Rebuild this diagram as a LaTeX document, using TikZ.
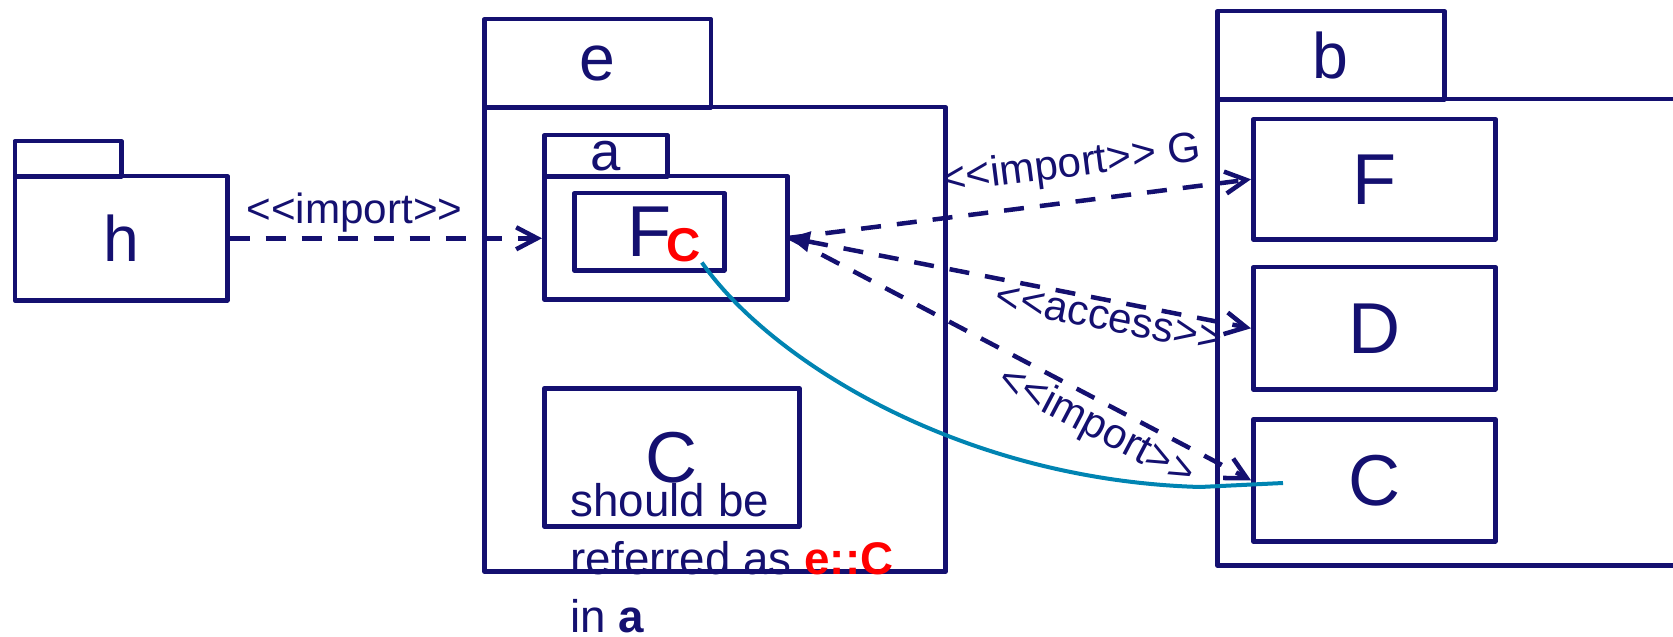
\documentclass[tikz,border=0pt]{standalone}
\usepackage{fontspec}
\setmainfont{Liberation Sans}
\usetikzlibrary{arrows.meta}

\definecolor{umlnavy}{RGB}{20,16,112}
\definecolor{umlteal}{RGB}{0,132,178}

\newcommand{\ltlt}{<\kern0pt<}
\newcommand{\gtgt}{>\kern0pt>}
\newcommand{\pkgfont}{\fontsize{18.3}{22}\selectfont}
\newcommand{\clsfont}{\fontsize{20.5}{24}\selectfont}

\tikzset{
  pkg/.style={draw=umlnavy, line width=0.045cm, line join=round, anchor=north west,
    inner sep=0pt, text=umlnavy},
  dep/.style={draw=umlnavy, line width=0.045cm, dash pattern=on 0.2cm off 0.16cm,
    -{Straight Barb[length=0.21cm,width=0.22cm]}},
  deplabel/.style={text=umlnavy, font=\fontsize{12}{14}\selectfont, inner sep=1pt},
}

\begin{document}
\begin{tikzpicture}[x=0.01cm, y=-0.01cm]
   \useasboundingbox (0,0) rectangle (1673,637);

   \node[pkg, minimum width=1.065cm, minimum height=0.35cm] (htab) at (12.5,139) {};
   \node[pkg, minimum width=2.125cm, minimum height=1.24cm, font=\pkgfont] (h) at (12.5,174) {h};

   \node[pkg, minimum width=2.265cm, minimum height=0.88cm, font=\pkgfont] (etab) at (482,17) {e};
   \node[pkg, minimum width=4.61cm, minimum height=4.64cm] (e) at (482,105) {};
   \node[pkg, minimum width=1.23cm, minimum height=0.41cm, font=\fontsize{15.5}{18}\selectfont] (atab) at (542,133) {a};
   \node[pkg, minimum width=2.43cm, minimum height=1.23cm] (a) at (542,174) {};
   \node[pkg, minimum width=1.5cm, minimum height=0.77cm, font=\clsfont] (aF) at (572,191) {F};
   \node[font=\bfseries\fontsize{13.5}{16}\selectfont, text=red, inner sep=0pt] (mark) at (684,245) {C};
   \node[pkg, minimum width=2.55cm, minimum height=1.38cm, font=\clsfont] (eC) at (542,386) {C};

   \node[pkg, minimum width=2.27cm, minimum height=0.88cm, font=\pkgfont] (btab) at (1215,9) {b};
   \node[pkg, minimum width=5cm, minimum height=4.66cm] (b) at (1215,97) {};
   \node[pkg, minimum width=2.42cm, minimum height=1.2cm, font=\clsfont] (bF) at (1251,117) {F};
   \node[pkg, minimum width=2.42cm, minimum height=1.22cm, font=\clsfont] (bD) at (1251,265) {D};
   \node[pkg, minimum width=2.42cm, minimum height=1.22cm, font=\clsfont] (bC) at (1251,417) {C};

   \draw[dep] (h.east) -- (h.east -| a.west)
      node[deplabel, pos=.4, above] {\ltlt import\gtgt};
   \draw[dep] (a.east) -- (bF.west)
      node[deplabel, pos=.62, sloped, above=3pt] {\ltlt import\gtgt{} G};
   \draw[dep, {Triangle[length=0.2cm,width=0.2cm]}-{Straight Barb[length=0.21cm,width=0.22cm]}] (a.east) -- (bD.west)
      node[deplabel, pos=.7, sloped, below] {\ltlt access\gtgt};
   \draw[dep] (a.east) -- (bC.west)
      node[deplabel, pos=.69, sloped, below] {\ltlt import\gtgt};

   % link from the marked C to b::C
   \coordinate (cend) at (1283,483);
   \draw[umlteal, line width=0.04cm] (mark.south east) .. controls (770,360) and (960,480) .. (1200,487) -- (cend);

   \node[anchor=north west, align=left, inner sep=0pt, text=umlnavy, font=\fontsize{13}{16.5}\selectfont] (note) at (570,483)
      {should be\\referred as \textcolor{red}{\textbf{e::C}}\\in \textbf{a}};
\end{tikzpicture}
\end{document}
